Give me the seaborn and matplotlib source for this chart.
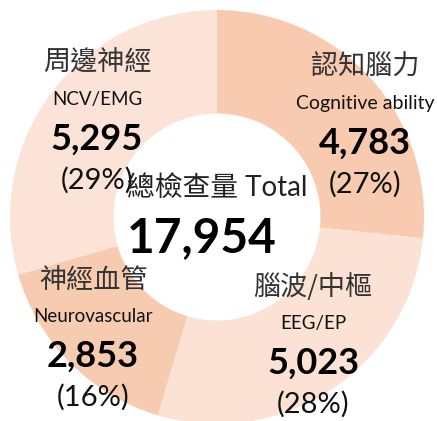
import matplotlib
matplotlib.use('Agg')
import matplotlib.pyplot as plt
import seaborn as sns

# data, clockwise from 12 o'clock
names_zh = ['認知腦力', '腦波/中樞', '神經血管', '周邊神經']
names_en = ['Cognitive ability', 'EEG/EP', 'Neurovascular', 'NCV/EMG']
counts = [4783, 5023, 2853, 5295]
slice_colors = ['#F8CBB0', '#FBE2D5', '#F7CBB0', '#FCE3D7']

total_zh = '總檢查量'
total_en = 'Total'

sns.set_theme(style='white')
plt.rcParams['font.family'] = ['Lato', 'Noto Sans CJK TC', 'DejaVu Sans']

W, H = 437, 421
fig = plt.figure(figsize=(W / 100, H / 100), dpi=100)
fig.patch.set_facecolor('white')

# donut: centre (217, 217) px, radius 207 px
cx, cy, r = 217, 217, 207
ax = fig.add_axes([(cx - r) / W, (H - cy - r) / H, 2 * r / W, 2 * r / H])
colors = sns.color_palette(slice_colors)
ax.pie(counts, colors=colors, startangle=90, counterclock=False,
       wedgeprops={'width': 0.5, 'edgecolor': 'none'})
ax.set_xlim(-1, 1)
ax.set_ylim(-1, 1)
ax.axis('off')

total = sum(counts)
cjk = ['Noto Sans CJK TC', 'DejaVu Sans']
lat = ['Lato', 'Noto Sans CJK TC', 'DejaVu Sans']


def put(x, y, s, size, fam, weight='normal', color='black'):
    fig.text(x / W, 1 - y / H, s, ha='center', va='center', fontsize=size,
             family=fam, fontweight=weight, color=color)


# label positions in pixels (x, y of first line)
label_pos = [(365, 67), (313, 287), (93, 280), (97, 63)]
en_sizes = [14, 13.5, 13.5, 13.5]
for (x, y), zh, en, n, es in zip(label_pos, names_zh, names_en, counts, en_sizes):
    put(x, y, zh, 19.5, cjk, weight='light', color='#333333')
    put(x, y + 36, en, es, lat, color='#111111')
    put(x, y + 76, f'{n:,}', 26, lat, weight='bold')
    put(x, y + 117, f'({n / total:.0%})', 21, lat, color='#111111')

put(217, 188, f'{total_zh} {total_en}', 20, lat, color='#222222')
put(202, 238, f'{total:,}', 34.5, lat, weight='bold')

fig.savefig('out.png', dpi=100, facecolor='white')
